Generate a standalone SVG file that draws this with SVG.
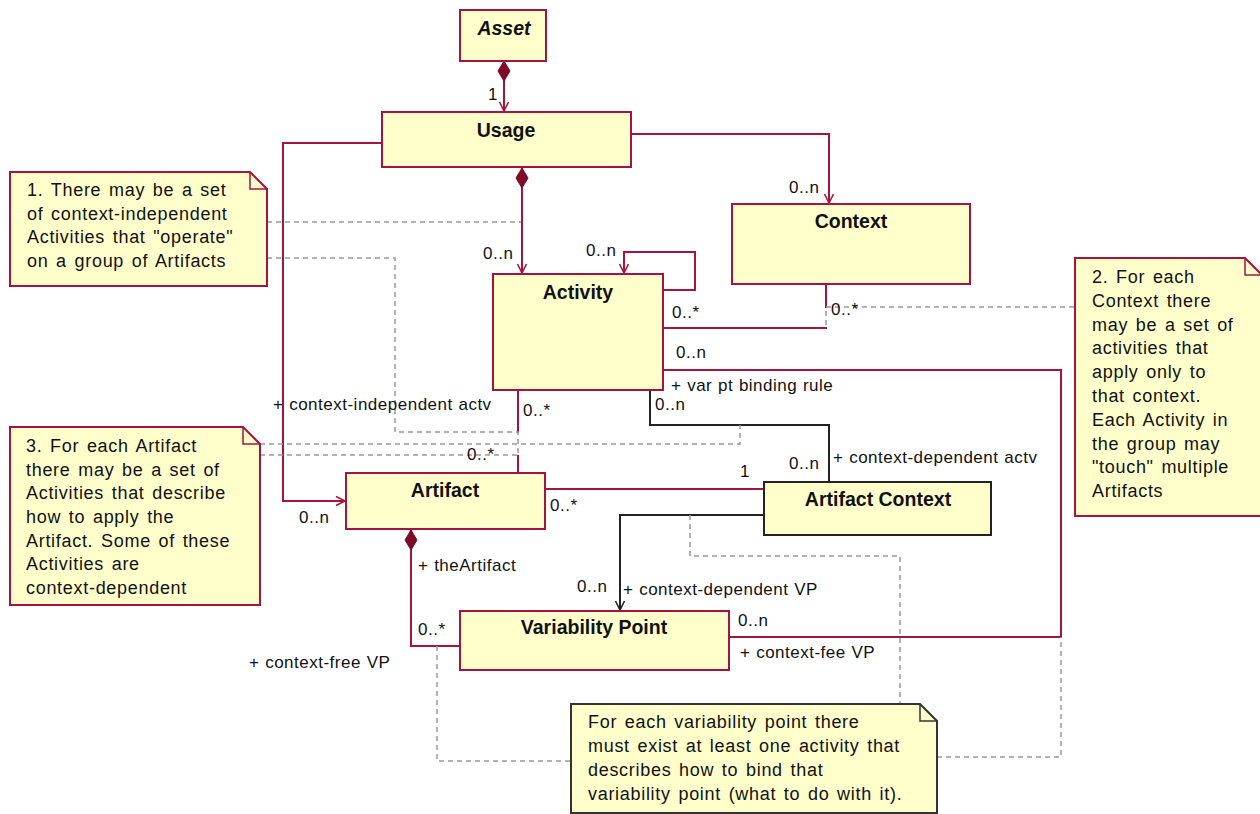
<svg xmlns="http://www.w3.org/2000/svg" width="1260" height="814" viewBox="0 0 1260 814">
<style>
  .box { fill: #ffffcc; stroke: #a5143f; stroke-width: 2; }
  .boxk { fill: #ffffcc; stroke: #222; stroke-width: 2; }
  .note { fill: #ffffcc; stroke: #a5143f; stroke-width: 2; }
  .notek { fill: #ffffcc; stroke: #333; stroke-width: 2; }
  .fold { fill: none; stroke: #a5143f; stroke-width: 1.5; }
  .foldk { fill: none; stroke: #333; stroke-width: 1.5; }
  .name { font-family: "Liberation Sans", Arial, sans-serif; font-weight: bold; font-size: 19.5px; text-anchor: middle; fill: #111; }
  .lbl { font-family: "Liberation Sans", Arial, sans-serif; font-size: 17px; letter-spacing: 0.5px; word-spacing: 0.5px; fill: #111; }
  .nt { font-family: "Liberation Sans", Arial, sans-serif; font-size: 18px; letter-spacing: 0.7px; word-spacing: 2px; fill: #111; }
  .red { fill: none; stroke: #a5143f; stroke-width: 2; }
  .blk { fill: none; stroke: #222; stroke-width: 2; }
  .dash { fill: none; stroke: #999; stroke-width: 1.5; stroke-dasharray: 5 4; }
  .wipe { fill: none; stroke: #fff; stroke-width: 3; }
</style>
<defs>
  <marker id="arrR" markerUnits="userSpaceOnUse" markerWidth="12" markerHeight="12" refX="10" refY="5" orient="auto" viewBox="0 0 12 10">
    <path d="M1,0.5 L10,5 L1,9.5" fill="none" stroke="#a5143f" stroke-width="1.6"/>
  </marker>
  <marker id="arrK" markerUnits="userSpaceOnUse" markerWidth="12" markerHeight="12" refX="10" refY="5" orient="auto" viewBox="0 0 12 10">
    <path d="M1,0.5 L10,5 L1,9.5" fill="none" stroke="#222" stroke-width="1.6"/>
  </marker>
  <marker id="dia" markerUnits="userSpaceOnUse" markerWidth="22" markerHeight="14" refX="0" refY="6" orient="auto" viewBox="0 0 22 12">
    <path d="M0,6 L10,0 L20,6 L10,12 Z" fill="#7f0a2a" stroke="#7f0a2a" stroke-width="1"/>
  </marker>
</defs>
<rect width="1260" height="814" fill="#fff"/>

<g id="connectors">
  <path class="red" d="M504,61 V111" marker-start="url(#dia)" marker-end="url(#arrR)"/>
  <path class="red" d="M522,168 V273" marker-start="url(#dia)" marker-end="url(#arrR)"/>
  <path class="red" d="M382,143 H283 V501 H345" marker-end="url(#arrR)"/>
  <path class="red" d="M631,134 H829 V203" marker-end="url(#arrR)"/>
  <path class="red" d="M663,290 H695 V252 H624 V273" marker-end="url(#arrR)"/>
  <path class="red" d="M663,328 H826 V284"/>
  <path class="red" d="M663,370 H1061 V637 H729"/>
  <path class="red" d="M518,390 V473"/>
  <path class="red" d="M545,489 H764"/>
  <path class="red" d="M411,530 V646 H459" marker-start="url(#dia)"/>
  <path class="blk" d="M650,390 V425 H829 V481"/>
  <path class="blk" d="M764,515 H620 V610" marker-end="url(#arrK)"/>
</g>

<g id="note-anchors">
  <path class="wipe" d="M826,308 V327"/>
  <path class="wipe" d="M518,433 V455"/>
  <path class="dash" d="M1074,307 H826 V328"/>
  <path class="dash" d="M267,222 H521"/>
  <path class="dash" d="M267,258 H395 V432 H518 V455"/>
  <path class="dash" d="M260,444 H740 V425"/>
  <path class="dash" d="M260,455 H518"/>
  <path class="dash" d="M437,646 V761 H571"/>
  <path class="dash" d="M937,757 H1061 V637"/>
  <path class="dash" d="M690,515 V556 H900 V704"/>
</g>

<g id="asset">
  <rect class="box" x="460" y="10" width="86" height="51"/>
  <text class="name" x="504" y="35" font-style="italic" font-size="20">Asset</text>
</g>
<g id="usage">
  <rect class="box" x="382" y="112" width="249" height="55"/>
  <text class="name" x="506" y="137">Usage</text>
</g>
<g id="context">
  <rect class="box" x="732" y="204" width="238" height="80"/>
  <text class="name" x="851" y="228">Context</text>
</g>
<g id="activity">
  <rect class="box" x="493" y="274" width="170" height="116"/>
  <text class="name" x="578" y="299">Activity</text>
</g>
<g id="artifact">
  <rect class="box" x="346" y="473" width="199" height="56"/>
  <text class="name" x="445" y="497">Artifact</text>
</g>
<g id="artifact-context">
  <rect class="boxk" x="764" y="482" width="227" height="53"/>
  <text class="name" x="878" y="506">Artifact Context</text>
</g>
<g id="variability-point">
  <rect class="box" x="460" y="611" width="269" height="59"/>
  <text class="name" x="594" y="634">Variability Point</text>
</g>

<g id="labels">
  <text class="lbl" x="488" y="100">1</text>
  <text class="lbl" x="789" y="193">0..n</text>
  <text class="lbl" x="483" y="259">0..n</text>
  <text class="lbl" x="586" y="256">0..n</text>
  <text class="lbl" x="672" y="318">0..*</text>
  <text class="lbl" x="831" y="315">0..*</text>
  <text class="lbl" x="676" y="358">0..n</text>
  <text class="lbl" x="671" y="391">+ var pt binding rule</text>
  <text class="lbl" x="655" y="410">0..n</text>
  <text class="lbl" x="740" y="477">1</text>
  <text class="lbl" x="789" y="469">0..n</text>
  <text class="lbl" x="833" y="463">+ context-dependent actv</text>
  <text class="lbl" x="273" y="410">+ context-independent actv</text>
  <text class="lbl" x="523" y="416">0..*</text>
  <text class="lbl" x="467" y="460">0..*</text>
  <text class="lbl" x="550" y="511">0..*</text>
  <text class="lbl" x="299" y="523">0..n</text>
  <text class="lbl" x="418" y="571">+ theArtifact</text>
  <text class="lbl" x="577" y="592">0..n</text>
  <text class="lbl" x="623" y="595">+ context-dependent VP</text>
  <text class="lbl" x="418" y="635">0..*</text>
  <text class="lbl" x="249" y="668">+ context-free VP</text>
  <text class="lbl" x="738" y="626">0..n</text>
  <text class="lbl" x="740" y="658">+ context-fee VP</text>
</g>

<g id="note1">
  <path class="note" d="M10,172 H250 L267,189 V286 H10 Z"/>
  <path class="fold" d="M250,172 V189 H267"/>
  <text class="nt" x="27" y="196">1. There may be a set</text>
  <text class="nt" x="27" y="219.5">of context-independent</text>
  <text class="nt" x="27" y="243">Activities that "operate"</text>
  <text class="nt" x="27" y="266.5">on a group of Artifacts</text>
</g>
<g id="note2">
  <path class="note" d="M1075,258 H1245 L1262,275 V516 H1075 Z"/>
  <path class="fold" d="M1245,258 V275 H1262"/>
  <text class="nt" x="1092" y="283">2. For each</text>
  <text class="nt" x="1092" y="306.8">Context there</text>
  <text class="nt" x="1092" y="330.6">may be a set of</text>
  <text class="nt" x="1092" y="354.4">activities that</text>
  <text class="nt" x="1092" y="378.2">apply only to</text>
  <text class="nt" x="1092" y="402">that context.</text>
  <text class="nt" x="1092" y="425.8">Each Activity in</text>
  <text class="nt" x="1092" y="449.6">the group may</text>
  <text class="nt" x="1092" y="473.4">"touch" multiple</text>
  <text class="nt" x="1092" y="497.2">Artifacts</text>
</g>
<g id="note3">
  <path class="note" d="M10,427 H243 L260,444 V605 H10 Z"/>
  <path class="fold" d="M243,427 V444 H260"/>
  <text class="nt" x="26" y="452">3. For each Artifact</text>
  <text class="nt" x="26" y="475.7">there may be a set of</text>
  <text class="nt" x="26" y="499.3">Activities that describe</text>
  <text class="nt" x="26" y="523">how to apply the</text>
  <text class="nt" x="26" y="546.7">Artifact. Some of these</text>
  <text class="nt" x="26" y="570.3">Activities are</text>
  <text class="nt" x="26" y="594">context-dependent</text>
</g>
<g id="note4">
  <path class="notek" d="M571,704 H920 L937,721 V813 H571 Z"/>
  <path class="foldk" d="M920,704 V721 H937"/>
  <text class="nt" x="588" y="728">For each variability point there</text>
  <text class="nt" x="588" y="752">must exist at least one activity that</text>
  <text class="nt" x="588" y="776">describes how to bind that</text>
  <text class="nt" x="588" y="800">variability point (what to do with it).</text>
</g>
</svg>
